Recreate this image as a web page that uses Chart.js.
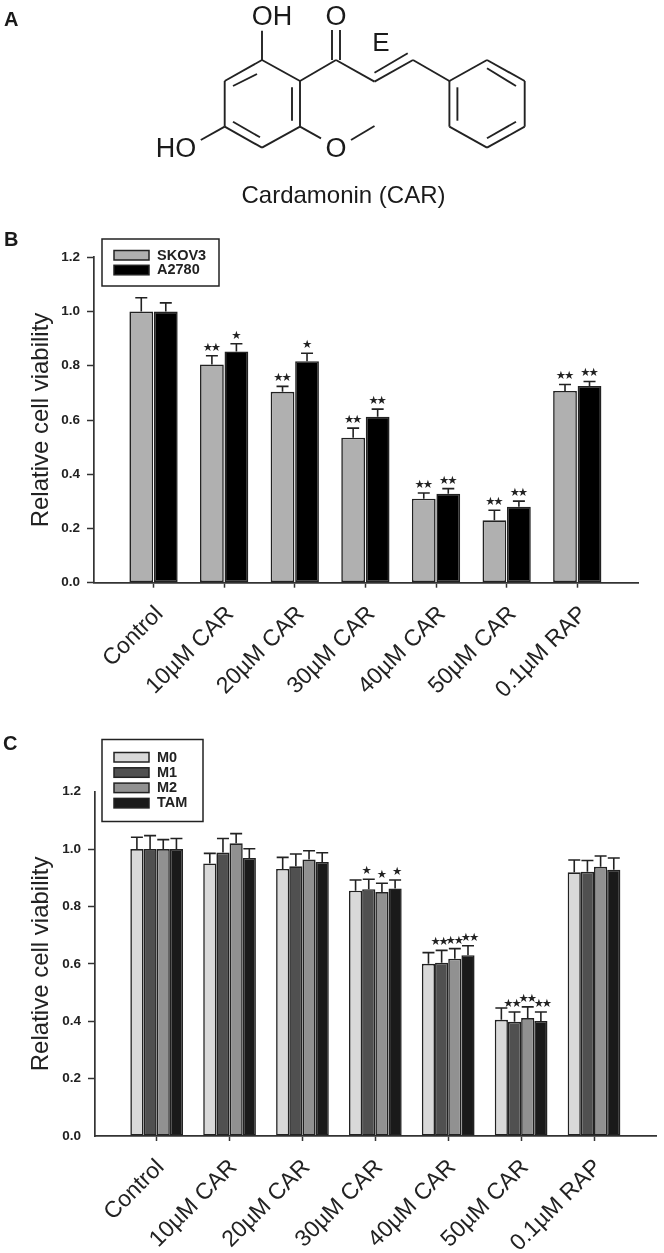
<!DOCTYPE html>
<html>
<head>
<meta charset="utf-8">
<title>Cardamonin (CAR)</title>
<script src="https://cdn.jsdelivr.net/npm/chart.js@4"></script>
<style>
    html, body { margin: 0; padding: 0; background: #fff; }
    #page { position: relative; width: 664px; height: 1253px; overflow: hidden; }
    canvas { position: absolute; left: 0; }
    #chartB { top: 225px; }
    #chartC { top: 730px; }
    svg { position: absolute; left: 0; top: 0; }
    svg line { stroke: #222; stroke-width: 1.9; }
    svg text { font-family: "Liberation Sans", Arial, sans-serif; fill: #1a1a1a; }
</style>
</head>
<body>
<div id="page">
    <canvas id="chartB" width="664" height="475"></canvas>
    <canvas id="chartC" width="664" height="523"></canvas>
    <svg width="664" height="1253">
        <text x="4" y="26" font-size="20" font-weight="bold">A</text>
        <text x="4" y="246" font-size="20" font-weight="bold">B</text>
        <text x="3" y="750" font-size="20" font-weight="bold">C</text>

        <!-- left ring -->
        <line x1="262" y1="60" x2="300" y2="81"/>
        <line x1="300" y1="81" x2="300" y2="126.7"/>
        <line x1="300" y1="126.7" x2="262" y2="147.7"/>
        <line x1="262" y1="147.7" x2="224.7" y2="126.7"/>
        <line x1="224.7" y1="126.7" x2="224.7" y2="81"/>
        <line x1="224.7" y1="81" x2="262" y2="60"/>
        <line x1="233" y1="86" x2="257" y2="74"/>
        <line x1="292" y1="87.3" x2="292" y2="120.7"/>
        <line x1="233" y1="121.7" x2="260" y2="137.3"/>
        <line x1="262" y1="60" x2="262" y2="30.7"/>
        <line x1="224.7" y1="126.7" x2="200.8" y2="140"/>
        <line x1="300" y1="126.7" x2="321" y2="138.3"/>
        <line x1="351" y1="140" x2="374.5" y2="126"/>
        <!-- chain -->
        <line x1="300" y1="81" x2="336" y2="60"/>
        <line x1="332" y1="60" x2="332" y2="30"/>
        <line x1="340" y1="60" x2="340" y2="30"/>
        <line x1="336" y1="60" x2="374.5" y2="81.7"/>
        <line x1="374.5" y1="81.7" x2="413" y2="60"/>
        <line x1="374.5" y1="72.7" x2="407.7" y2="53.3"/>
        <line x1="413" y1="60" x2="449.4" y2="81"/>
        <!-- right ring -->
        <line x1="449.4" y1="81" x2="487" y2="60"/>
        <line x1="487" y1="60" x2="524.7" y2="81"/>
        <line x1="524.7" y1="81" x2="524.7" y2="126.7"/>
        <line x1="524.7" y1="126.7" x2="487" y2="147.7"/>
        <line x1="487" y1="147.7" x2="449.4" y2="126.7"/>
        <line x1="449.4" y1="126.7" x2="449.4" y2="81"/>
        <line x1="457.4" y1="87.3" x2="457.4" y2="120.7"/>
        <line x1="487" y1="68.3" x2="516" y2="86"/>
        <line x1="516" y1="121.7" x2="487" y2="138.3"/>

        <text x="272" y="25" font-size="27" text-anchor="middle">OH</text>
        <text x="336" y="25" font-size="27" text-anchor="middle">O</text>
        <text x="381" y="50.5" font-size="26" text-anchor="middle">E</text>
        <text x="176" y="157" font-size="27" text-anchor="middle">HO</text>
        <text x="336" y="157" font-size="27" text-anchor="middle">O</text>
        <text x="343.5" y="203" font-size="24" text-anchor="middle">Cardamonin (CAR)</text>
    </svg>
</div>

<script>
// data
const categories = ['Control', '10µM CAR', '20µM CAR', '30µM CAR', '40µM CAR', '50µM CAR', '0.1µM RAP'];
const yTicksMax = 1.2;
const yTitle = 'Relative cell viability';

// panel B
const skov3 = [1.0, 0.805, 0.704, 0.535, 0.31, 0.23, 0.707];
const skov3Err = [0.051, 0.032, 0.02, 0.035, 0.021, 0.037, 0.024];
const skov3Stars = ['', '★★', '★★', '★★', '★★', '★★', '★★'];
const a2780 = [1.0, 0.853, 0.817, 0.612, 0.328, 0.28, 0.725];
const a2780Err = [0.032, 0.028, 0.029, 0.028, 0.019, 0.021, 0.017];
const a2780Stars = ['', '★', '★', '★★', '★★', '★★', '★★'];

// panel C
const m0 = [1.0, 0.95, 0.931, 0.855, 0.6, 0.405, 0.919];
const m0Err = [0.041, 0.035, 0.04, 0.037, 0.039, 0.041, 0.043];
const m0Stars = ['', '', '', '', '', '', ''];
const m1 = [1.0, 0.988, 0.94, 0.86, 0.604, 0.398, 0.921];
const m1Err = [0.047, 0.049, 0.043, 0.035, 0.043, 0.034, 0.039];
const m1Stars = ['', '', '', '★', '★★', '★★', ''];
const m2 = [1.0, 1.02, 0.964, 0.85, 0.618, 0.411, 0.938];
const m2Err = [0.033, 0.034, 0.03, 0.031, 0.035, 0.039, 0.038];
const m2Stars = ['', '', '', '★', '★★', '★★', ''];
const tam = [1.0, 0.969, 0.955, 0.863, 0.63, 0.401, 0.928];
const tamErr = [0.037, 0.032, 0.032, 0.029, 0.033, 0.031, 0.041];
const tamStars = ['', '', '', '★', '★★', '★★', ''];

const FONT = '"Liberation Sans", Arial, sans-serif';
const INK = '#222';

// error bars (upward only), stars and the boxed legend
const panelDecor = {
    id: 'panelDecor',
    afterDatasetsDraw(chart, args, opts) {
        const ctx = chart.ctx;
        const yScale = chart.scales.y;
        ctx.save();
        chart.data.datasets.forEach((ds, i) => {
            const meta = chart.getDatasetMeta(i);
            meta.data.forEach((bar, j) => {
                const top = yScale.getPixelForValue(ds.data[j].y + ds.errors[j]);
                ctx.strokeStyle = INK;
                ctx.lineWidth = 1.6;
                ctx.beginPath();
                ctx.moveTo(bar.x, bar.y);
                ctx.lineTo(bar.x, top);
                ctx.moveTo(bar.x - 6, top);
                ctx.lineTo(bar.x + 6, top);
                ctx.stroke();
                // stars one by one, they sit closer than the glyph advance
                const stars = Array.from(ds.stars[j]);
                ctx.fillStyle = INK;
                ctx.font = '11.5px "DejaVu Sans"';
                ctx.textAlign = 'center';
                ctx.textBaseline = 'middle';
                stars.forEach((s, k) => {
                    const sx = bar.x + (ds.starShift || 0) + (k - (stars.length - 1) / 2) * 8.2;
                    ctx.fillText(s, sx, top - 8);
                });
            });
        });

        const box = opts.box;
        ctx.strokeStyle = INK;
        ctx.lineWidth = 1.5;
        ctx.strokeRect(box.x, box.y, box.w, box.h);
        chart.data.datasets.forEach((ds, i) => {
            const y = box.y + box.first + i * box.step;
            ctx.fillStyle = ds.backgroundColor;
            ctx.fillRect(box.x + 12, y, 35, 9.5);
            ctx.strokeStyle = INK;
            ctx.strokeRect(box.x + 12, y, 35, 9.5);
            ctx.fillStyle = INK;
            ctx.font = 'bold 14.5px ' + FONT;
            ctx.textAlign = 'left';
            ctx.textBaseline = 'middle';
            ctx.fillText(ds.label, box.x + 55, y + 5);
        });
        ctx.restore();
    }
};

function makeDataset(label, values, errors, stars, color, barPercentage, starShift) {
    return {
        label: label,
        data: values.map((v, i) => ({ x: i + 1, y: v })),
        errors: errors,
        stars: stars,
        starShift: starShift,
        backgroundColor: color,
        borderColor: INK,
        borderWidth: 1.6,
        borderSkipped: false,
        categoryPercentage: barPercentage.cat,
        barPercentage: barPercentage.bar
    };
}

function makeChart(id, datasets, layout) {
    return new Chart(document.getElementById(id).getContext('2d'), {
        type: 'bar',
        data: { datasets: datasets },
        plugins: [panelDecor],
        options: {
            responsive: false,
            animation: false,
            layout: { padding: { top: layout.top, right: layout.right, left: 0, bottom: 0 } },
            plugins: {
                legend: { display: false },
                tooltip: { enabled: false },
                panelDecor: { box: layout.box }
            },
            scales: {
                x: {
                    type: 'linear',
                    offset: false,
                    min: layout.xMin,
                    max: layout.xMax,
                    afterFit(scale) { scale.height = layout.xHeight; },
                    border: { color: '#333', width: 1.7 },
                    grid: { offset: false, drawOnChartArea: false, tickLength: 5, tickColor: '#333', tickWidth: 1.5 },
                    ticks: {
                        stepSize: 1,
                        includeBounds: false,
                        autoSkip: false,
                        minRotation: 45,
                        maxRotation: 45,
                        padding: 13,
                        labelOffset: layout.labelOffset,
                        color: INK,
                        font: { family: FONT, size: 23 },
                        callback: v => categories[v - 1]
                    }
                },
                y: {
                    min: 0,
                    max: yTicksMax,
                    afterFit(scale) { scale.width = layout.yWidth; },
                    border: { color: '#333', width: 1.7 },
                    grid: {
                        drawOnChartArea: false,
                        tickLength: 7,
                        tickWidth: 1.5,
                        tickColor: c => layout.hideEndTicks && (c.tick.value === 0 || c.tick.value === yTicksMax) ? 'rgba(0,0,0,0)' : '#333'
                    },
                    title: {
                        display: true,
                        text: yTitle,
                        color: INK,
                        font: { family: FONT, size: 24 },
                        padding: { top: 27, bottom: 0 }
                    },
                    ticks: {
                        stepSize: 0.2,
                        padding: 7,
                        color: INK,
                        font: { family: FONT, size: 13.5, weight: 'bold' },
                        callback: v => v.toFixed(1)
                    }
                }
            }
        }
    });
}

const barsB = { cat: 0.694, bar: 0.97 };
const barsC = { cat: 0.723, bar: 1 };

makeChart('chartB', [
    makeDataset('SKOV3', skov3, skov3Err, skov3Stars, '#b0b0b0', barsB, 0),
    makeDataset('A2780', a2780, a2780Err, a2780Stars, '#000000', barsB, 0)
], {
    top: 32.3, right: 26, xHeight: 117.3, yWidth: 94,
    xMin: 0.157, xMax: 7.86, labelOffset: 6,
    box: { x: 102, y: 14, w: 117, h: 47, first: 11.5, step: 14.8 }
});

makeChart('chartC', [
    makeDataset('M0', m0, m0Err, m0Stars, '#d9d9d9', barsC, 0),
    makeDataset('M1', m1, m1Err, m1Stars, '#505050', barsC, -2),
    makeDataset('M2', m2, m2Err, m2Stars, '#919191', barsC, 0),
    makeDataset('TAM', tam, tamErr, tamStars, '#1a1a1a', barsC, 2)
], {
    top: 61.7, right: 7.3, xHeight: 117, yWidth: 95,
    xMin: 0.154, xMax: 7.86, labelOffset: 4, hideEndTicks: true,
    box: { x: 102, y: 9.5, w: 101, h: 82, first: 13, step: 15.3 }
});
</script>
</body>
</html>
